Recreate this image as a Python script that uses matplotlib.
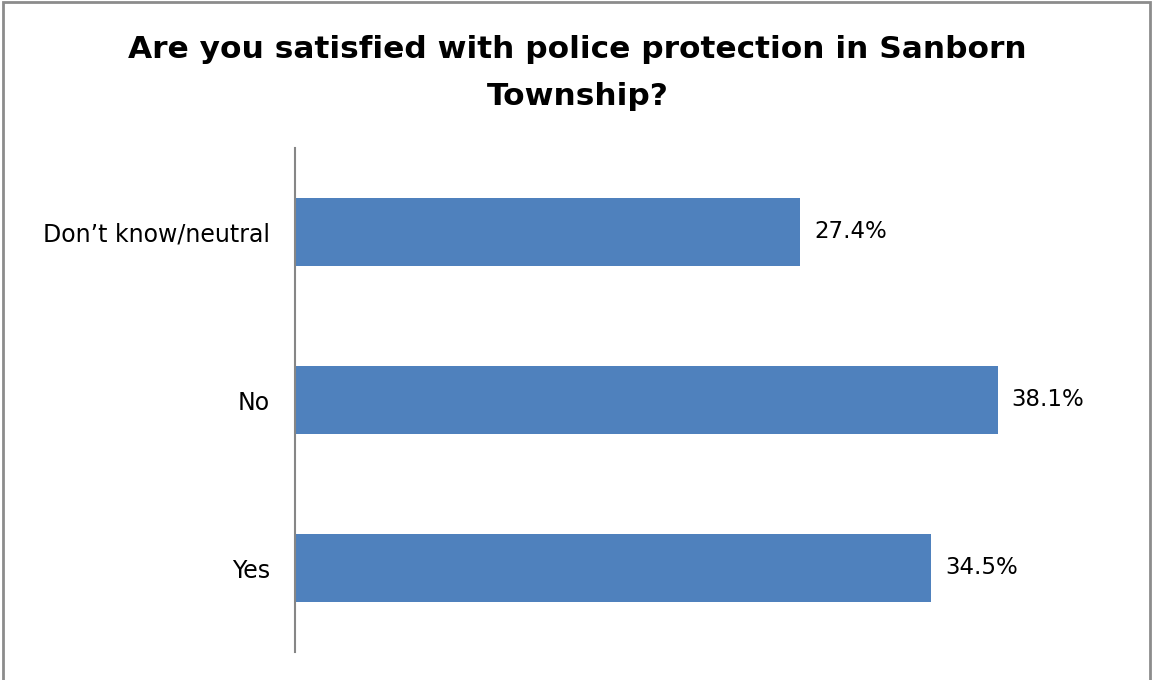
import matplotlib.pyplot as plt
from matplotlib.patches import Rectangle

# Survey answers (bottom to top as drawn)
categories = ["Yes", "No", "Don\u2019t know/neutral"]
percents = [34.5, 38.1, 27.4]
labels = ["34.5%", "38.1%", "27.4%"]

bar_color = "#4F81BD"
axis_color = "#868686"

fig = plt.figure(figsize=(11.53, 6.80), dpi=100)
ax = fig.add_axes([295 / 1153, 28 / 680, 830 / 1153, 504 / 680])

ax.barh(range(len(categories)), percents, height=0.4, color=bar_color)
ax.set_xlim(0, 45)
ax.set_ylim(-0.5, 2.5)

for i, (v, t) in enumerate(zip(percents, labels)):
    ax.text(v + 0.75, i, t, va="center", ha="left", fontsize=16.5, color="black")

ax.set_yticks(range(len(categories)))
ax.set_yticklabels(categories, fontsize=17)
ax.tick_params(axis="y", length=0, pad=18)
ax.set_xticks([])
for side in ["top", "right", "bottom"]:
    ax.spines[side].set_visible(False)
ax.spines["left"].set_color(axis_color)
ax.spines["left"].set_linewidth(1.5)

fig.text(0.501, 0.948, "Are you satisfied with police protection in Sanborn\nTownship?",
         ha="center", va="top", fontsize=22.5, fontweight="bold", linespacing=1.75)

# grey frame around the chart area (bottom edge falls outside the image)
fig.patches.append(Rectangle((3 / 1153, -10 / 680), 1147 / 1153, 688 / 680,
                             transform=fig.transFigure, fill=False,
                             edgecolor="#8c8c8c", linewidth=2))

fig.savefig("out.png", dpi=100)
